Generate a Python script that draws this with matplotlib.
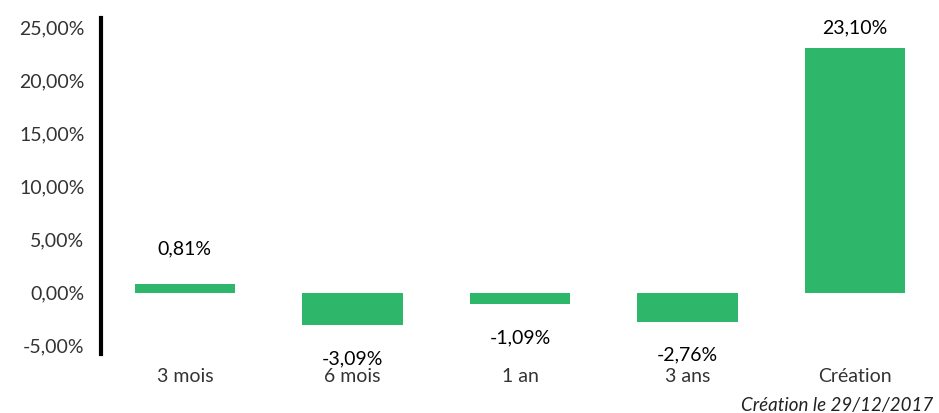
import matplotlib.pyplot as plt

plt.rcParams['font.family'] = ['Lato', 'DejaVu Sans']

categories = ["3 mois", "6 mois", "1 an", "3 ans", "Création"]
values = [0.81, -3.09, -1.09, -2.76, 23.10]
value_labels = ["0,81%", "-3,09%", "-1,09%", "-2,76%", "23,10%"]
yticks = [-5, 0, 5, 10, 15, 20, 25]
ytick_labels = ["-5,00%", "0,00%", "5,00%", "10,00%", "15,00%", "20,00%", "25,00%"]
label_offsets = [25, -24, -24, -24, 14]   # points, style only

GREEN = "#2EB66B"

fig = plt.figure(figsize=(9.39, 4.13), dpi=100)
ax = fig.add_axes([0.1076, 0.1429, 0.8924, 0.8135])

x = range(len(categories))
ax.bar(x, values, width=0.6, color=GREEN)

for xi, v, lab, off in zip(x, values, value_labels, label_offsets):
    ax.annotate(lab, (xi, v), xytext=(0, off), textcoords="offset points",
                ha="center", va="center", fontsize=14, color="black")

ax.set_xlim(-0.5, 4.5)
ax.set_ylim(-5.8, 25.9)
ax.set_yticks(yticks)
ax.set_yticklabels(ytick_labels)
ax.set_xticks(list(x))
ax.set_xticklabels(categories)
ax.tick_params(axis="both", length=0, labelsize=14, colors="#333333")
ax.tick_params(axis="y", pad=12)
ax.tick_params(axis="x", pad=10)

for s in ["top", "right", "bottom"]:
    ax.spines[s].set_visible(False)
ax.spines["left"].set_linewidth(3)
ax.spines["left"].set_color("black")

fig.text(0.994, 0.018, "Création le 29/12/2017", ha="right", va="center",
         fontsize=13.5, style="italic", color="#222222")

fig.savefig("out.png", dpi=100)
